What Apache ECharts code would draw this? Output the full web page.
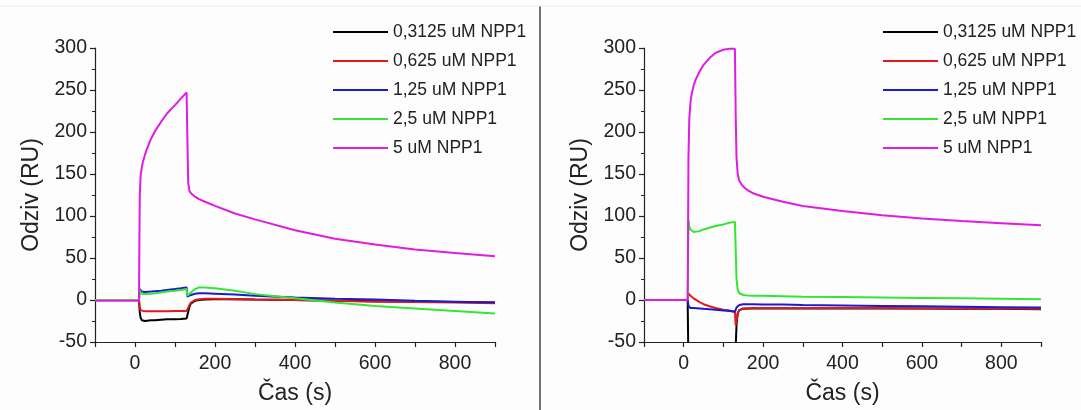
<!DOCTYPE html>
<html lang="sl">

<head>
  <meta charset="UTF-8">
  <title>Odziv NPP1</title>
  <script src="https://cdn.jsdelivr.net/npm/echarts@6/dist/echarts.min.js"></script>
  <style>
    html, body { margin: 0; padding: 0; background: #fdfdfd; }
    #chart { width: 1081px; height: 410px; }
  </style>
</head>

<body>
  <div id="chart"></div>
  <script>
    // časovne točke (s), skupne za vse krivulje
    const times = [-100, 10, 11, 12, 14, 17, 20, 25, 30, 40, 50, 65, 80, 100, 115, 129,
      131, 133, 136, 140, 145, 150, 160, 175, 200, 250, 300, 400, 500, 600, 700, 800, 900]

    const names = ['0,3125 uM NPP1', '0,625 uM NPP1', '1,25 uM NPP1', '2,5 uM NPP1', '5 uM NPP1']
    const colors = ['#000000', '#e3191c', '#1a1acf', '#33e633', '#e01ce0']

    const xTicks = [0, 200, 400, 600, 800]
    const yTicks = [-50, 0, 50, 100, 150, 200, 250, 300]

    // levi graf
    const leftBlack = [0, 0, -8, -15, -21, -24, -25, -25, -24.5, -24, -24, -23.5, -23, -23, -22.5, -22,
      -20, -14, -8, -4, -2, -1, 0, 0.5, 1, 1, 0.5, 0, -1, -1.5, -2, -2.5, -3]
    const leftRed = [0, 0, -5, -9, -12, -13, -13, -13.5, -13.5, -13.5, -13.5, -13.5, -13.5, -13, -13, -13,
      -12, -9, -6, -3, -1, 0, 1, 1.5, 1.5, 1, 0.5, 0, -1, -2, -2.5, -3, -4]
    const leftBlue = [0, 0, 8, 13, 11, 10, 10, 9.5, 9.5, 10, 10.5, 11, 12, 13, 14, 15,
      4, 3, 5, 6, 7, 7.5, 8, 8, 7.5, 6.5, 5, 3, 1.5, 0.5, -1, -2, -3]
    const leftGreen = [0, 0, 7, 12, 9, 8, 7, 7, 7, 7.5, 8, 9, 10, 11, 12, 13,
      5, 3, 6, 9, 11, 13, 15, 15, 14, 11, 7, 2, -3, -7, -10, -13, -16]
    const leftMagenta = [-1, -1, 70, 125, 148, 158, 165, 173, 180, 192, 201, 212, 222, 232, 240, 247,
      190, 140, 130, 127, 125, 123, 120, 117, 112, 103, 96, 83, 73, 66, 60, 56, 52]

    // desni graf
    const rightBlack = [0, 0, -40, -80, -80, -80, -80, -80, -80, -80, -80, -80, -80, -80, -80, -80,
      -80, -30, -16, -12, -11, -10.5, -10, -10, -10, -10, -10, -10, -10, -10, -10.5, -10.5, -11]
    const rightRed = [0, 0, 5, 8, 6, 5, 4, 2, 0, -2.5, -5, -7.5, -9.5, -11.5, -12.5, -14,
      -30, -25, -16, -12, -10.5, -10, -10, -9.5, -9.5, -9.5, -9.5, -9.5, -9.5, -10, -10, -10, -10.5]
    const rightBlue = [0, 0, -3, -7, -9, -9.5, -9.5, -9.5, -10, -10, -10.5, -11, -11.5, -12.5, -13, -14,
      -12, -9, -7, -6, -5.5, -5, -5, -5, -5.5, -5.5, -6, -6.5, -7, -7.5, -8, -8.5, -9]
    const rightGreen = [0, 0, 60, 95, 88, 84, 82, 81, 81, 82, 84, 86, 88, 90, 92, 93,
      60, 25, 12, 8, 7, 6, 5.5, 5, 5, 4.5, 4, 3.5, 3, 2.5, 2, 1.5, 1]
    const rightMagenta = [0, 0, 80, 170, 215, 235, 245, 255, 262, 272, 280, 288, 294, 298, 299, 299,
      220, 170, 150, 142, 138, 135, 131, 127, 123, 117, 112, 106, 101, 97, 94, 91.5, 89]

    const leftSets = [leftBlack, leftRed, leftBlue, leftGreen, leftMagenta]
    const rightSets = [rightBlack, rightRed, rightBlue, rightGreen, rightMagenta]

    const font = 'Arial, "Liberation Sans", sans-serif'
    const chart = echarts.init(document.getElementById('chart'))

    const axisColor = '#222'

    function makeX(gridIndex) {
      return {
        type: 'value', gridIndex, min: -100, max: 900, interval: 100,
        name: 'Čas (s)', nameLocation: 'middle', nameGap: 40,
        nameTextStyle: { fontSize: 23, color: '#222', fontFamily: font },
        axisLine: { show: true, onZero: false, lineStyle: { color: axisColor, width: 1.2 } },
        axisTick: { show: true, length: 5, lineStyle: { color: axisColor, width: 1.2 } },
        axisLabel: {
          fontSize: 19.5, color: '#222', fontFamily: font, margin: 12,
          formatter: v => (xTicks.includes(v) ? String(v) : '')
        },
        splitLine: { show: false }
      }
    }

    function makeY(gridIndex) {
      return {
        type: 'value', gridIndex, min: -50, max: 300, interval: 50,
        name: 'Odziv (RU)', nameLocation: 'middle', nameGap: 52,
        nameTextStyle: { fontSize: 23, color: '#222', fontFamily: font },
        axisLine: { show: true, onZero: false, lineStyle: { color: axisColor, width: 1.2 } },
        axisTick: { show: true, length: 5, lineStyle: { color: axisColor, width: 1.2 } },
        minorTick: { show: true, splitNumber: 2, length: 3, lineStyle: { color: axisColor } },
        axisLabel: {
          fontSize: 19.5, color: '#222', fontFamily: font, margin: 8,
          formatter: v => (yTicks.includes(v) ? String(v) : '')
        },
        splitLine: { show: false }
      }
    }

    function makeLegend(left) {
      return {
        left, top: 17, orient: 'vertical', icon: 'rect',
        itemWidth: 55, itemHeight: 2, itemGap: 9,
        data: names,
        textStyle: { fontSize: 17.5, color: '#222', fontFamily: font, lineHeight: 20 }
      }
    }

    const series = []
    ;[leftSets, rightSets].forEach((sets, panel) => {
      sets.forEach((vals, i) => {
        series.push({
          name: names[i], type: 'line',
          xAxisIndex: panel, yAxisIndex: panel,
          data: times.map((t, k) => [t, vals[k]]),
          showSymbol: false, symbol: 'none',
          lineStyle: { width: 2, color: colors[i] },
          itemStyle: { color: colors[i] },
          z: 2 + i
        })
      })
    })

    const option = {
      backgroundColor: '#fdfdfd',
      animation: false,
      color: colors,
      grid: [
        { left: 95, top: 48, width: 400, height: 295 },
        { left: 644, top: 48, width: 397, height: 295 }
      ],
      xAxis: [makeX(0), makeX(1)],
      yAxis: [makeY(0), makeY(1)],
      legend: [makeLegend(328), makeLegend(878)],
      graphic: [
        { type: 'line', shape: { x1: 540, y1: 6, x2: 540, y2: 410 }, style: { stroke: '#444', lineWidth: 1.5 } },
        { type: 'line', shape: { x1: 0, y1: 6, x2: 1081, y2: 6 }, style: { stroke: '#ececec', lineWidth: 1 } }
      ],
      series
    }

    chart.setOption(option)
  </script>
</body>

</html>
